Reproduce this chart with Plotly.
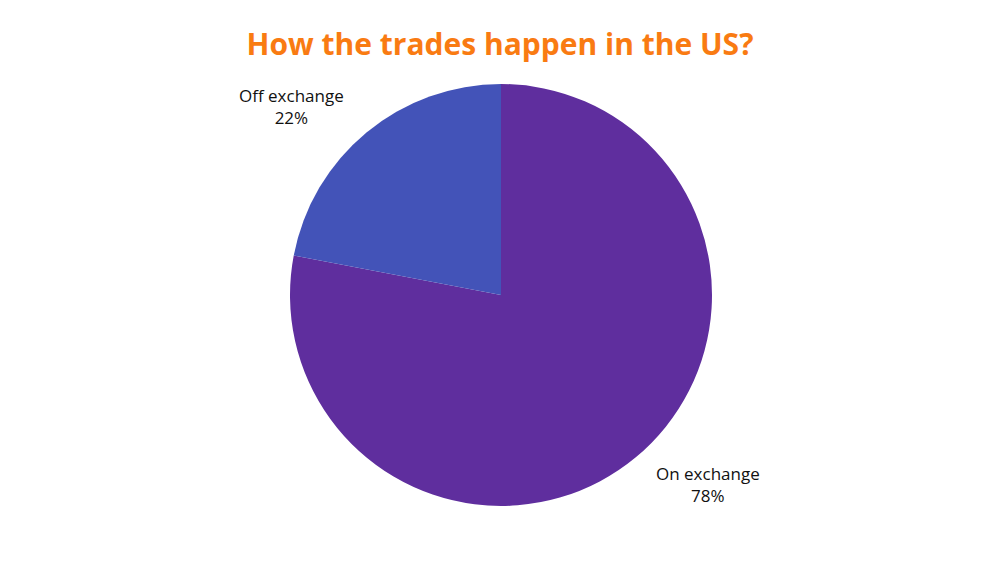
import plotly.graph_objects as go

labels = ["On exchange", "Off exchange"]
values = [78, 22]
colors = ["#5F2E9E", "#4353B8"]

fig = go.Figure(go.Pie(
    labels=labels,
    values=values,
    marker=dict(colors=colors, line=dict(width=0)),
    sort=False,
    direction="clockwise",
    rotation=0,
    textinfo="none",
    hoverinfo="label+percent",
    domain=dict(x=[0.290, 0.712], y=[1 - 506 / 563, 1 - 84 / 563]),
    showlegend=False,
))

total = sum(values)
label_pos = [(0.708, 1 - 484 / 563), (0.291, 1 - 106 / 563)]
for lab, v, (x, y) in zip(labels, values, label_pos):
    fig.add_annotation(
        x=x, y=y, xref="paper", yref="paper",
        xanchor="center", yanchor="middle",
        text=f"{lab}<br>{round(100 * v / total)}%",
        showarrow=False, align="center",
        font=dict(family="Open Sans", size=17, color="#111111"),
    )

fig.update_layout(
    width=1000, height=563,
    margin=dict(l=0, r=0, t=0, b=0),
    paper_bgcolor="white", plot_bgcolor="white",
    title=dict(
        text="<b>How the trades happen in the US?</b>",
        x=0.5, xanchor="center", y=1 - 44 / 563, yanchor="middle",
        font=dict(family="Open Sans", size=30, color="#F97B12"),
    ),
)

fig.write_html("out.html", config={"displayModeBar": False},
               post_script="document.body.style.margin='0';")
